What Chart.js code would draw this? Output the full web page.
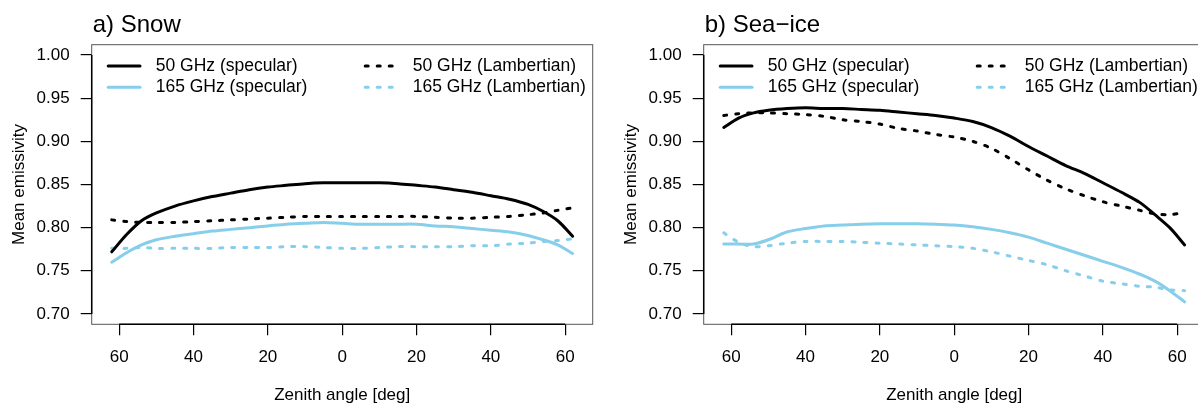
<!DOCTYPE html>
<html>
<head>
<meta charset="utf-8">
<script src="https://cdn.jsdelivr.net/npm/chart.js@4.4.0/dist/chart.umd.min.js"></script>
<style>
  html, body { margin: 0; padding: 0; background: #fff; overflow: hidden; }
  body { width: 1198px; height: 410px; position: relative; }
  .panel { position: absolute; top: 0; width: 612px; height: 410px; }
</style>
</head>
<body>
<div class="panel" style="left:0"><canvas id="snow" width="612" height="410"></canvas></div>
<div class="panel" style="left:612px"><canvas id="seaice" width="612" height="410"></canvas></div>
<script>
// zenith angles (deg), negative = left side of the scan
const angles = [-62, -58, -54, -50, -45, -40, -35, -30, -25, -20, -15, -10, -5, 0,
                5, 10, 15, 20, 25, 30, 35, 40, 45, 50, 54, 58, 62];

// a) Snow
const snowSpec50 = [0.772, 0.792, 0.808, 0.817, 0.825, 0.831, 0.836, 0.840, 0.844, 0.847, 0.849, 0.851, 0.852, 0.852,
                    0.852, 0.852, 0.851, 0.849, 0.847, 0.844, 0.841, 0.837, 0.833, 0.827, 0.819, 0.808, 0.790];
const snowSpec165 = [0.760, 0.771, 0.780, 0.786, 0.790, 0.793, 0.796, 0.798, 0.800, 0.802, 0.804, 0.805, 0.806, 0.805,
                     0.804, 0.804, 0.804, 0.804, 0.802, 0.801, 0.799, 0.797, 0.795, 0.791, 0.786, 0.780, 0.770];
const snowLamb50 = [0.809, 0.807, 0.806, 0.806, 0.806, 0.807, 0.808, 0.809, 0.810, 0.811, 0.812, 0.813, 0.813, 0.813,
                    0.813, 0.813, 0.813, 0.813, 0.812, 0.811, 0.811, 0.812, 0.813, 0.815, 0.817, 0.820, 0.823];
const snowLamb165 = [0.776, 0.776, 0.777, 0.776, 0.776, 0.776, 0.776, 0.777, 0.777, 0.777, 0.778, 0.778, 0.777, 0.776,
                     0.776, 0.777, 0.778, 0.778, 0.778, 0.778, 0.779, 0.779, 0.781, 0.782, 0.784, 0.785, 0.787];

// b) Sea-ice
const iceSpec50 = [0.916, 0.927, 0.933, 0.936, 0.938, 0.939, 0.938, 0.938, 0.937, 0.936, 0.934, 0.932, 0.930, 0.927,
                   0.923, 0.916, 0.906, 0.894, 0.883, 0.872, 0.863, 0.852, 0.841, 0.829, 0.815, 0.800, 0.780];
const iceSpec165 = [0.781, 0.781, 0.781, 0.786, 0.795, 0.799, 0.802, 0.803, 0.804, 0.8045, 0.8045, 0.8045, 0.804, 0.803,
                    0.801, 0.798, 0.794, 0.789, 0.782, 0.775, 0.768, 0.761, 0.754, 0.746, 0.738, 0.727, 0.714];
const iceLamb50 = [0.930, 0.932, 0.933, 0.933, 0.932, 0.931, 0.929, 0.925, 0.923, 0.920, 0.915, 0.912, 0.908, 0.905,
                   0.900, 0.892, 0.880, 0.867, 0.855, 0.845, 0.837, 0.830, 0.825, 0.820, 0.816, 0.815, 0.818];
const iceLamb165 = [0.794, 0.783, 0.778, 0.779, 0.782, 0.784, 0.784, 0.784, 0.783, 0.782, 0.781, 0.780, 0.779, 0.778,
                    0.776, 0.772, 0.767, 0.762, 0.757, 0.750, 0.744, 0.738, 0.735, 0.732, 0.731, 0.728, 0.727];

const seriesNames = ['50 GHz (specular)', '165 GHz (specular)', '50 GHz (Lambertian)', '165 GHz (Lambertian)'];
const xTicks = [-60, -40, -20, 0, 20, 40, 60];
const yTicks = [0.70, 0.75, 0.80, 0.85, 0.90, 0.95, 1.00];

const FONT = '"Liberation Sans", Arial, Helvetica, sans-serif';
const BLUE = '#87ceeb';

function styleFor(i) {
    return {
        borderColor: i % 2 === 0 ? '#000' : BLUE,
        borderDash: i < 2 ? [] : [3, 9]
    };
}

// box, axis lines, panel title and the in-plot legend
const frame = {
    id: 'frame',
    afterDraw(chart, args, opts) {
        const { ctx, chartArea: a, scales: { x, y } } = chart;
        ctx.save();
        ctx.strokeStyle = '#555';
        ctx.lineWidth = 1;
        ctx.strokeRect(a.left, a.top, a.right - a.left, a.bottom - a.top);

        ctx.strokeStyle = '#000';
        ctx.lineWidth = 1.5;
        ctx.beginPath();
        ctx.moveTo(x.getPixelForValue(xTicks[0]), a.bottom);
        ctx.lineTo(x.getPixelForValue(xTicks[xTicks.length - 1]), a.bottom);
        ctx.moveTo(a.left, y.getPixelForValue(yTicks[0]));
        ctx.lineTo(a.left, y.getPixelForValue(yTicks[yTicks.length - 1]));
        ctx.stroke();

        ctx.fillStyle = '#000';
        ctx.font = '24px ' + FONT;
        ctx.textAlign = 'left';
        ctx.textBaseline = 'alphabetic';
        ctx.fillText(opts.title, a.left + 1, 32);

        ctx.font = '17.5px ' + FONT;
        ctx.textBaseline = 'middle';
        chart.data.datasets.forEach((ds, i) => {
            const col = Math.floor(i / 2), row = i % 2;
            const lx = a.left + (col ? 272 : 15);
            const ly = a.top + 21.3 + row * 21.3;
            ctx.strokeStyle = ds.borderColor;
            ctx.lineWidth = ds.borderWidth;
            ctx.lineCap = 'round';
            ctx.setLineDash(ds.borderDash);
            ctx.beginPath();
            ctx.moveTo(lx + 1.5, ly);
            ctx.lineTo(lx + 33.3, ly);
            ctx.stroke();
            ctx.setLineDash([]);
            ctx.fillText(ds.label, lx + 49, ly);
        });
        ctx.restore();
    }
};

function makePanel(id, title, series) {
    const datasets = series.map((vals, i) => Object.assign({
        label: seriesNames[i],
        data: angles.map((a, k) => ({ x: a, y: vals[k] })),
        borderWidth: 3,
        borderCapStyle: 'round',
        borderJoinStyle: 'round',
        pointRadius: 0,
        tension: 0.3,
        fill: false
    }, styleFor(i)));

    new Chart(document.getElementById(id), {
        type: 'line',
        data: { datasets },
        plugins: [frame],
        options: {
            responsive: false,
            animation: false,
            layout: { padding: { left: 0, right: 19.3, top: 44.7, bottom: 0 } },
            plugins: {
                legend: { display: false },
                tooltip: { enabled: false },
                frame: { title }
            },
            scales: {
                x: {
                    type: 'linear',
                    min: -67.4,
                    max: 67.4,
                    afterBuildTicks: s => { s.ticks = xTicks.map(v => ({ value: v })); },
                    afterFit: s => { s.height = 85.7; },
                    border: { display: false },
                    grid: { drawOnChartArea: false, drawTicks: true, tickLength: 11, color: '#000', lineWidth: 1.2 },
                    ticks: {
                        color: '#000',
                        font: { family: FONT, size: 17 },
                        padding: 12,
                        maxRotation: 0,
                        callback: v => String(Math.abs(v))
                    },
                    title: {
                        display: true,
                        text: 'Zenith angle [deg]',
                        color: '#000',
                        font: { family: FONT, size: 17 },
                        padding: { top: 0, bottom: 4 }
                    }
                },
                y: {
                    type: 'linear',
                    min: 0.688,
                    max: 1.012,
                    afterBuildTicks: s => { s.ticks = yTicks.map(v => ({ value: v })); },
                    afterFit: s => { s.width = 91.7; },
                    border: { display: false },
                    grid: { drawOnChartArea: false, drawTicks: true, tickLength: 11, color: '#000', lineWidth: 1.2 },
                    ticks: {
                        color: '#000',
                        font: { family: FONT, size: 17 },
                        padding: 11,
                        callback: v => v.toFixed(2)
                    },
                    title: {
                        display: true,
                        text: 'Mean emissivity',
                        color: '#000',
                        font: { family: FONT, size: 17 },
                        padding: { top: 9, bottom: 0 }
                    }
                }
            }
        }
    });
}

makePanel('snow', 'a) Snow', [snowSpec50, snowSpec165, snowLamb50, snowLamb165]);
makePanel('seaice', 'b) Sea\u2212ice', [iceSpec50, iceSpec165, iceLamb50, iceLamb165]);
</script>
</body>
</html>
